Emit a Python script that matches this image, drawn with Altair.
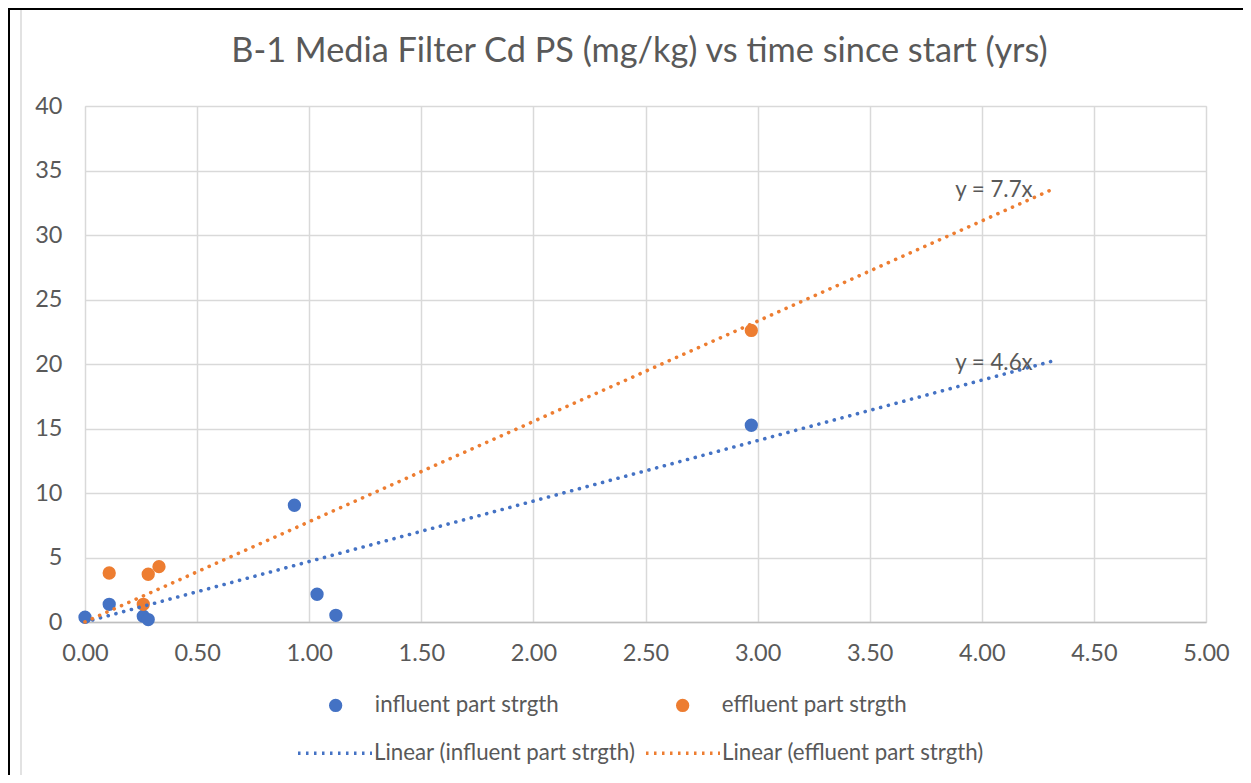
import altair as alt
import pandas as pd

# ---- data ----
title_text = "B-1 Media Filter Cd PS (mg/kg) vs time since start (yrs)"
inf_name = "influent part strgth"
eff_name = "effluent part strgth"
inf_x = [0.00, 0.108, 0.26, 0.282, 0.934, 1.035, 1.119, 2.972]
inf_y = [0.37, 1.37, 0.45, 0.19, 9.05, 2.15, 0.52, 15.25]
eff_x = [0.108, 0.26, 0.282, 0.33, 2.972]
eff_y = [3.80, 1.37, 3.70, 4.29, 22.60]

trend_names = ["Linear (influent part strgth)", "Linear (effluent part strgth)"]
trend_x = [0.0, 4.31]
inf_trend_y = [0.0, 20.2]
eff_trend_y = [0.0, 33.5]
trend_labels = ["y = 4.6x", "y = 7.7x"]
label_x = [4.054, 4.054]
label_y = [20.04, 33.45]

x_ticks = [0, 0.5, 1, 1.5, 2, 2.5, 3, 3.5, 4, 4.5, 5]
y_ticks = [0, 5, 10, 15, 20, 25, 30, 35, 40]

BLUE = "#4472C4"
ORANGE = "#ED7D31"
TEXT = "#595959"
FONT = "Lato"
TICK_FS = 23.5
TXT_FS = 22.3

pts = pd.DataFrame(
    {"x": inf_x + eff_x,
     "y": inf_y + eff_y,
     "series": [inf_name] * len(inf_x) + [eff_name] * len(eff_x)}
)
lines = pd.DataFrame(
    {"x": trend_x + trend_x,
     "y": inf_trend_y + eff_trend_y,
     "series": [trend_names[0]] * 2 + [trend_names[1]] * 2}
)
labels = pd.DataFrame({"x": label_x, "y": label_y, "text": trend_labels})

xs = alt.Scale(domain=[0, 5], nice=False, zero=False)
ys = alt.Scale(domain=[0, 40], nice=False, zero=False)

xaxis = alt.Axis(values=x_ticks, format=".2f", title=None, ticks=False,
                 domainColor="#BFBFBF", domainWidth=1.5,
                 gridColor="#D9D9D9", gridWidth=1.5,
                 labelFont=FONT, labelFontSize=TICK_FS, labelColor=TEXT,
                 labelPadding=19, labelFlush=False, labelOverlap=False)
yaxis = alt.Axis(values=y_ticks, title=None, ticks=False, domain=False,
                 gridColor="#D9D9D9", gridWidth=1.5,
                 labelFont=FONT, labelFontSize=TICK_FS, labelColor=TEXT,
                 labelPadding=23, labelFlush=False, labelOverlap=False)

points = alt.Chart(pts).mark_circle(size=177, opacity=1).encode(
    x=alt.X("x:Q", scale=xs, axis=xaxis),
    y=alt.Y("y:Q", scale=ys, axis=yaxis),
    fill=alt.Fill("series:N",
                  scale=alt.Scale(domain=[inf_name, eff_name], range=[BLUE, ORANGE]),
                  legend=alt.Legend(orient="none", legendX=239.5, legendY=588,
                                    direction="horizontal", title=None,
                                    symbolType="circle", symbolSize=177,
                                    symbolOpacity=1, symbolStrokeWidth=0,
                                    labelFont=FONT, labelFontSize=TXT_FS,
                                    labelColor=TEXT, labelOffset=28,
                                    columnPadding=112, padding=0,
                                    labelLimit=400)),
    order=alt.Order("series:N", sort="descending"),
)

trend = alt.Chart(lines).mark_line(strokeWidth=3.6, strokeDash=[0.1, 7.9],
                                   strokeCap="round").encode(
    x=alt.X("x:Q", scale=xs),
    y=alt.Y("y:Q", scale=ys),
    detail="series:N",
    stroke=alt.Stroke("series:N",
                      scale=alt.Scale(domain=trend_names, range=[BLUE, ORANGE]),
                      legend=alt.Legend(orient="none", legendX=211, legendY=608,
                                        direction="horizontal", title=None,
                                        symbolType="stroke", symbolSize=5476,
                                        symbolStrokeWidth=3.5,
                                        symbolDash=[2.5, 5.5],
                                        labelFont=FONT, labelFontSize=TXT_FS,
                                        labelColor=TEXT, labelOffset=0,
                                        columnPadding=3, padding=0,
                                        labelLimit=400)),
)

tlabels = alt.Chart(labels).mark_text(font=FONT, fontSize=TXT_FS, color=TEXT,
                                      align="center", baseline="middle").encode(
    x=alt.X("x:Q", scale=xs),
    y=alt.Y("y:Q", scale=ys),
    text="text:N",
)

one = alt.Data(values=[{"a": 1}])
title = alt.Chart(one).mark_text(font=FONT, fontSize=34.3, color=TEXT,
                                 align="center", baseline="middle").encode(
    x=alt.value(554.5), y=alt.value(-54), text=alt.value(title_text))
frame_top = alt.Chart(one).mark_rule(color="#000000", strokeWidth=2).encode(
    x=alt.value(-77), x2=alt.value(1160), y=alt.value(-97))
frame_left = alt.Chart(one).mark_rule(color="#000000", strokeWidth=2).encode(
    x=alt.value(-76), y=alt.value(-98), y2=alt.value(670))
area_left = alt.Chart(one).mark_rule(color="#D9D9D9", strokeWidth=1.5).encode(
    x=alt.value(-64), y=alt.value(-96), y2=alt.value(670))

chart = alt.layer(points, trend, tlabels, title, frame_top, frame_left, area_left).resolve_scale(
    fill="independent", stroke="independent"
).properties(
    width=1121,
    height=516,
    autosize=alt.AutoSizeParams(type="none"),
    padding={"left": 77, "top": 98, "right": 37, "bottom": 153},
).configure_view(stroke=None).configure(background="white")

chart.save("out.html", embed_options={"renderer": "svg", "actions": False})
